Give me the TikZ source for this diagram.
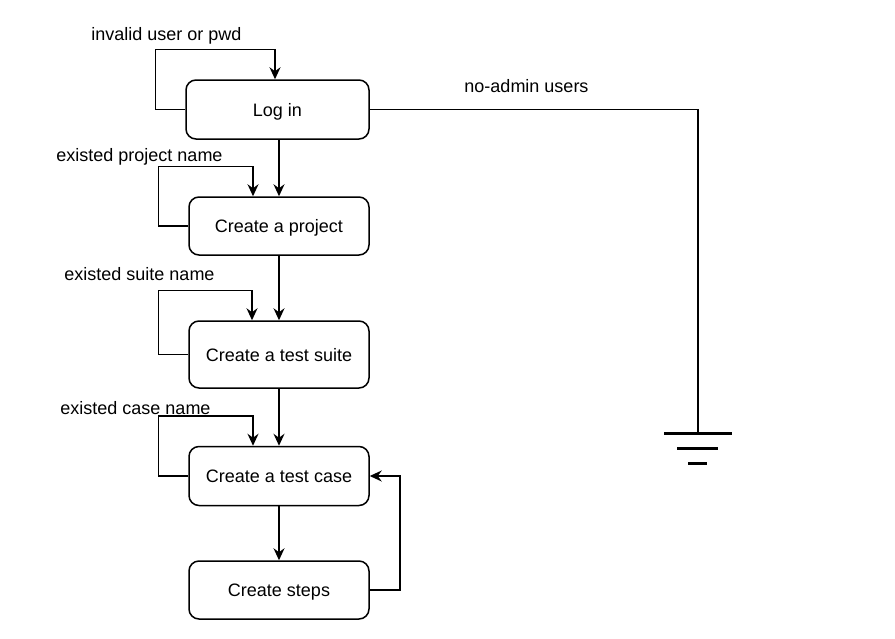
\documentclass[tikz,border=0pt]{standalone}
\usepackage{fontspec}
\setmainfont{Liberation Sans}
\usetikzlibrary{arrows.meta}
\begin{document}
\begin{tikzpicture}[x=1pt,y=-1pt,
  box/.style={draw,line width=1.5pt,rounded corners=10pt,minimum width=180pt,minimum height=58pt,inner sep=0pt,text height=13pt,text depth=0pt,font=\fontsize{18}{21}\selectfont},
  lbl/.style={anchor=base,inner sep=0pt,font=\fontsize{18}{21}\selectfont},
  conn/.style={line width=1.5pt},
  arr/.style={conn,-{Stealth[length=12pt,width=11pt,inset=4pt]}},
  gndl/.style={line width=3pt}]
\useasboundingbox (0,0) rectangle (895,638);
\node[box,minimum width=183pt,minimum height=59pt] (login) at (277.5,109.5) {Log in};
\node[box] (project) at (279,226) {Create a project};
\node[box,minimum height=67pt] (suite) at (279,354.5) {Create a test suite};
\node[box,minimum height=59pt] (case) at (279,476) {Create a test case};
\node[box] (steps) at (279,590) {Create steps};
\node[lbl] (l1) at (166.5,40.5) {invalid user or pwd};
\node[lbl] (l2) at (139.5,161.5) {existed project name};
\node[lbl] (l3) at (139.5,280.5) {existed suite name};
\node[lbl] (l4) at (135.5,414) {existed case name};
\node[lbl] (l5) at (526.5,92) {no-admin users};
% loops
\draw[arr] (login.west) -- ++(-30,0) |- ([xshift=-2.5pt,yshift=30pt]login.north) -- ([xshift=-2.5pt]login.north);
\draw[arr] (project.west) -- ++(-30,0) |- ([xshift=-26pt,yshift=30pt]project.north) -- ([xshift=-26pt]project.north);
\draw[arr] (suite.west) -- ++(-30,0) |- ([xshift=-27pt,yshift=30pt]suite.north) -- ([xshift=-27pt]suite.north);
\draw[arr] (case.west) -- ++(-30,0) |- ([xshift=-26pt,yshift=30pt]case.north) -- ([xshift=-26pt]case.north);
% main flow
\draw[arr] (project.north |- login.south) -- (project.north);
\draw[arr] (project.south) -- (suite.north);
\draw[arr] (suite.south) -- (case.north);
\draw[arr] (case.south) -- (steps.north);
\draw[arr] (steps.east) -- ++(30,0) |- (case.east);
% ground
\coordinate (gnd) at (698,433);
\draw[conn] (login.east) -| (gnd);
\draw[gndl] ([xshift=-34pt]gnd) -- ([xshift=34pt]gnd);
\draw[gndl] ([xshift=-21pt,yshift=-15pt]gnd) -- ([xshift=20pt,yshift=-15pt]gnd);
\draw[gndl] ([xshift=-10pt,yshift=-30pt]gnd) -- ([xshift=9pt,yshift=-30pt]gnd);
\end{tikzpicture}
\end{document}
